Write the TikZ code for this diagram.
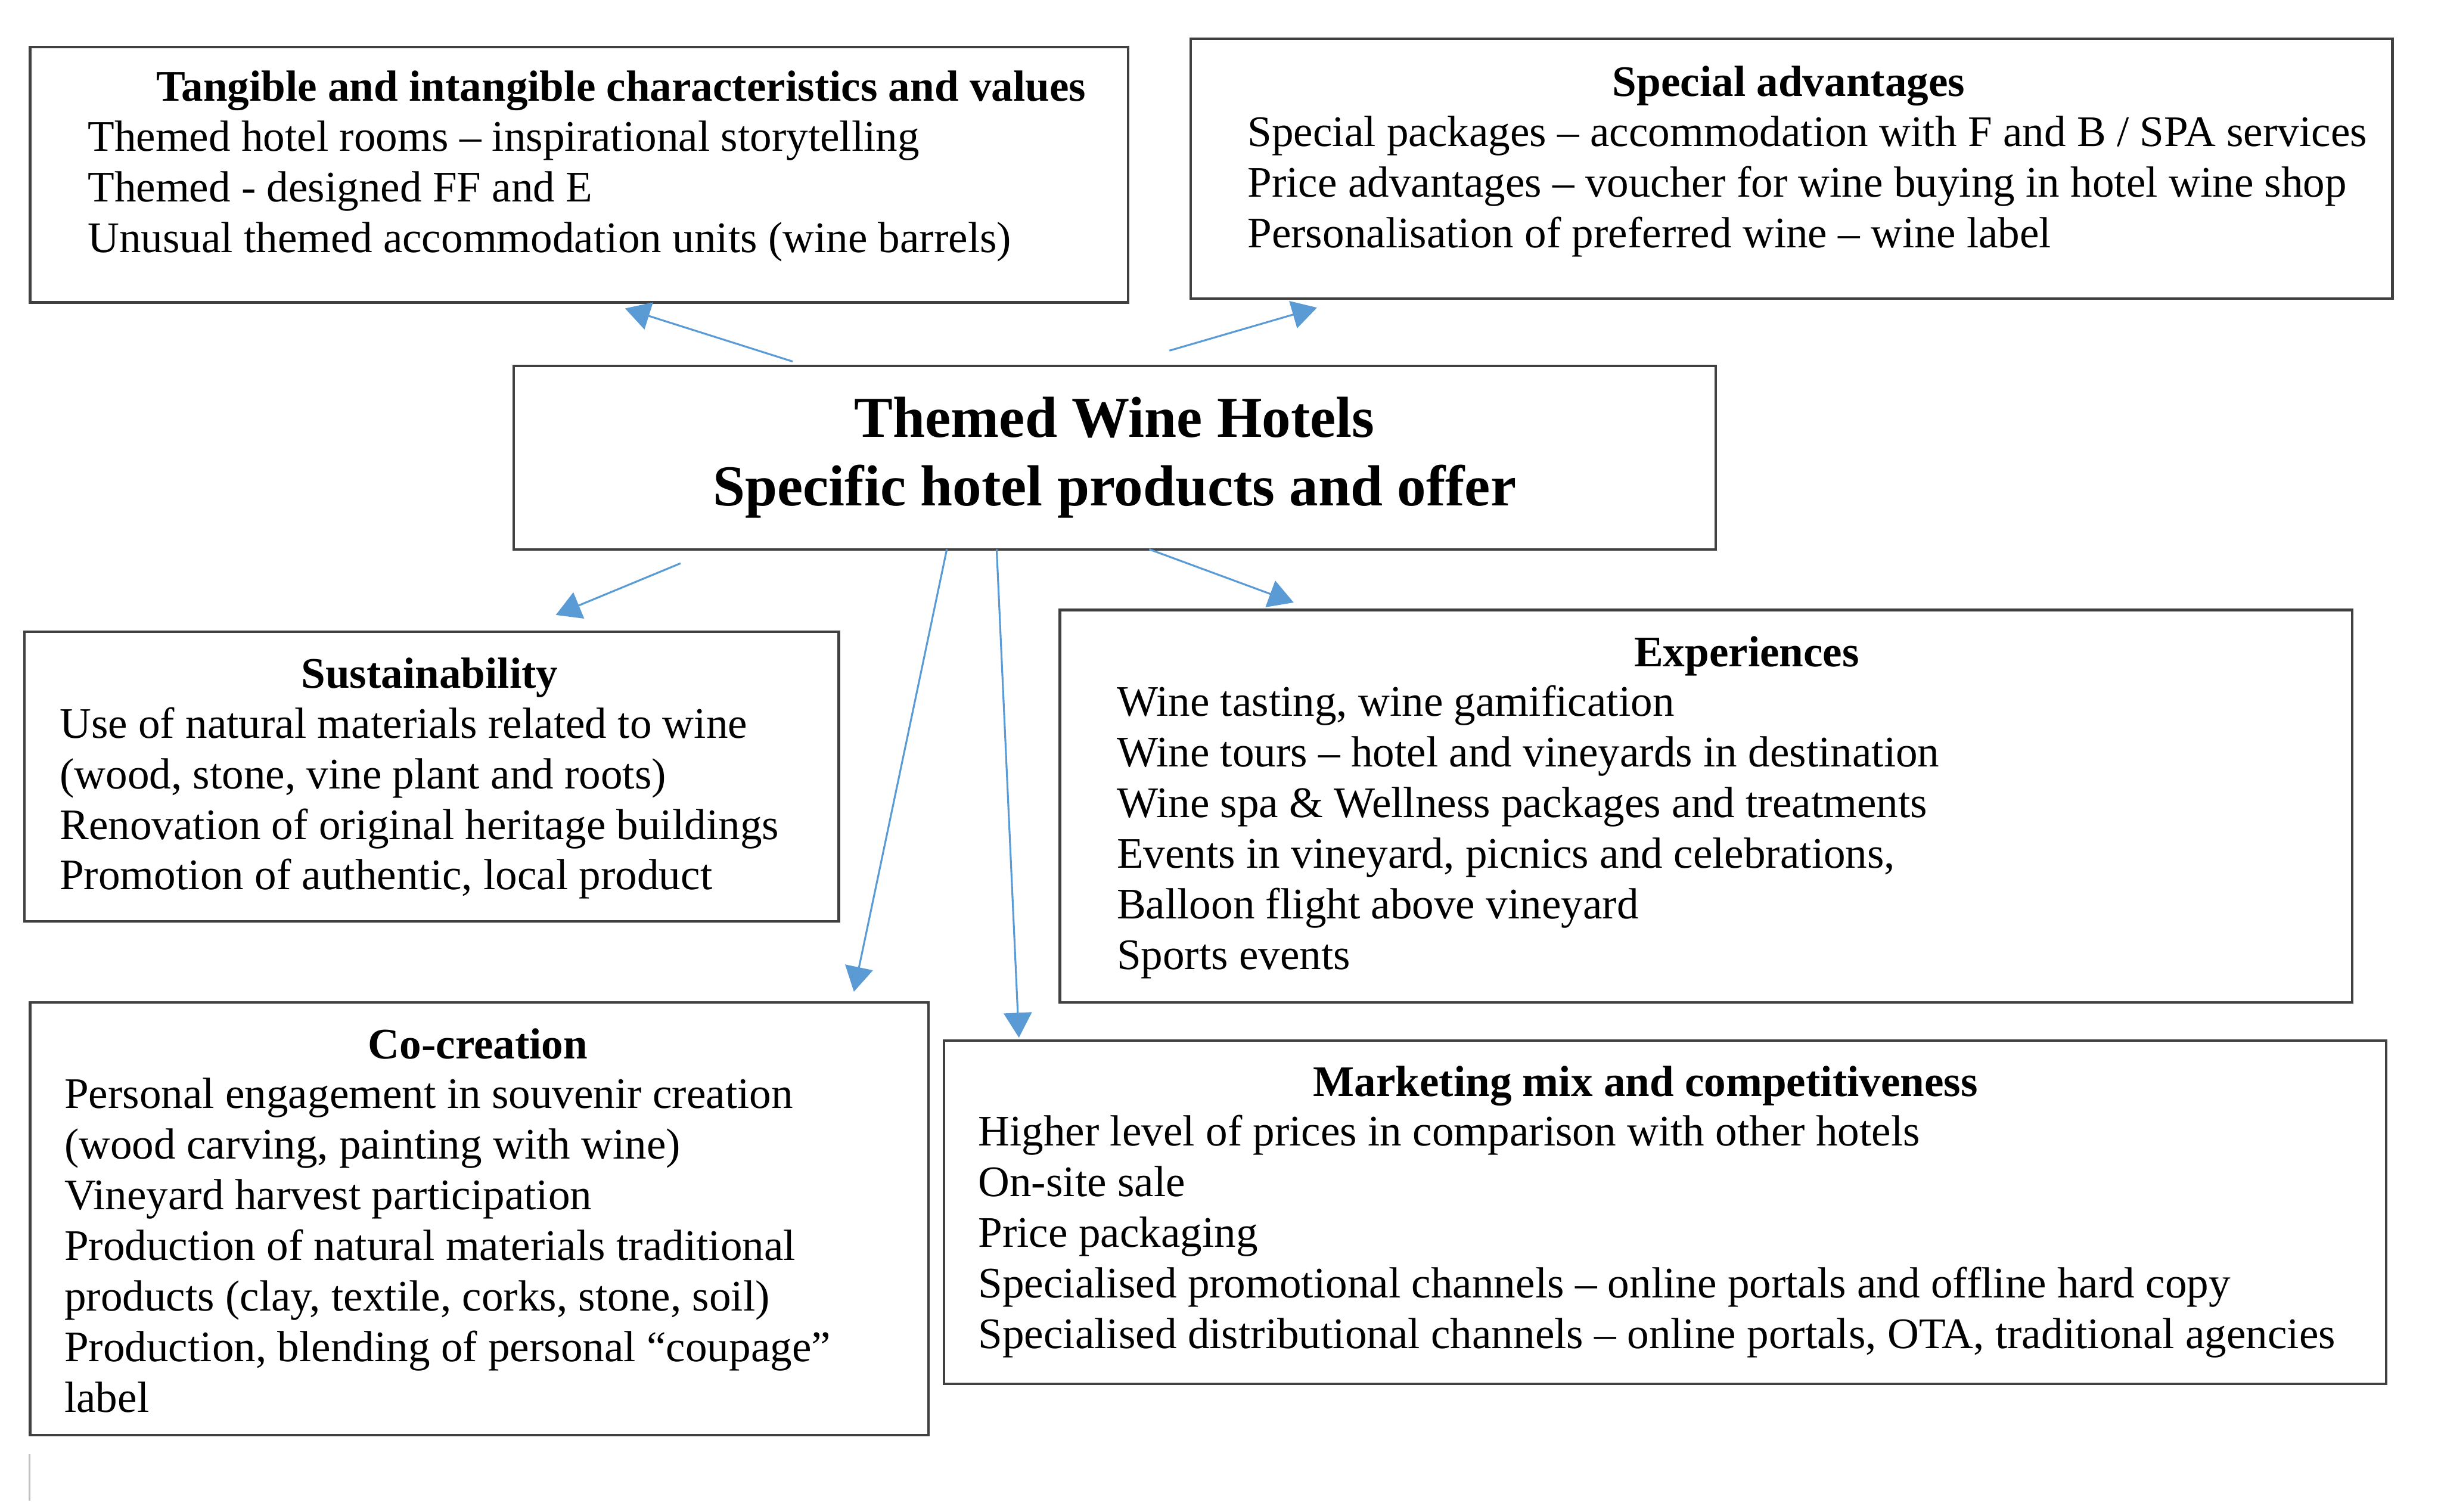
\documentclass[tikz,border=0pt]{standalone}
\usepackage{fontspec}
\setmainfont{Liberation Serif}
\usetikzlibrary{arrows.meta,calc}
\definecolor{linkblue}{RGB}{91,155,213}
\newcommand{\bodysize}{\fontsize{14}{16.25}\selectfont}
\newcommand{\hubsize}{\fontsize{18.6}{22}\selectfont}
\newcommand{\panelbox}[5]{%
	\node[panel, minimum width=#4*0.5pt, minimum height=#5*0.5pt] (#1) at (#2,#3) {};
}

\begin{document}
\begin{tikzpicture}[x=0.5pt, y=-0.5pt, font=\bodysize,
		panel/.style={draw=black!75, line width=0.8pt, inner sep=0pt, anchor=north west},
		head/.style={anchor=base, inner sep=0pt, font=\bodysize\bfseries},
		body/.style={anchor=base west, align=left, inner sep=0pt},
		link/.style={draw=linkblue, line width=0.6pt, -{Triangle[length=8pt, width=9pt]}}]
	\useasboundingbox (0,0) rectangle (1568,971);
	% centre box
	\node[panel, anchor=center, align=center, font=\hubsize\bfseries,
		minimum width=386pt, minimum height=59pt] (hub) at (716,294)
		{Themed Wine Hotels\\Specific hotel products and offer};
	% outer boxes
	\panelbox{tang}{18.5}{29.5}{705.5}{164}
	\panelbox{spec}{764}{24}{772}{167}
	\panelbox{sust}{15}{405}{523}{186}
	\panelbox{exp}{680}{391}{830}{252}
	\panelbox{cocre}{18.5}{643}{577}{278}
	\panelbox{mkt}{605.5}{667.5}{926.5}{220.5}
	% texts (bodies sit on the baseline of their last line)
	\node[head] (tang-head) at (399,65) {Tangible and intangible characteristics and values};
	\node[body] (tang-body) at (56,162) {Themed hotel rooms -- inspirational storytelling\\
		Themed - designed FF and E\\
		Unusual themed accommodation units (wine barrels)};
	\node[head] (spec-head) at (1149,62) {Special advantages};
	\node[body] (spec-body) at (801,159) {Special packages -- accommodation with F and B / SPA services\\
		Price advantages -- voucher for wine buying in hotel wine shop\\
		Personalisation of preferred wine -- wine label};
	\node[head] (sust-head) at (276,442) {Sustainability};
	\node[body] (sust-body) at (38,571.5) {Use of natural materials related to wine\\
		(wood, stone, vine plant and roots)\\
		Renovation of original heritage buildings\\
		Promotion of authentic, local product};
	\node[head] (exp-head) at (1122,428) {Experiences};
	\node[body] (exp-body) at (717,622.5) {Wine tasting, wine gamification\\
		Wine tours -- hotel and vineyards in destination\\
		Wine spa \& Wellness packages and treatments\\
		Events in vineyard, picnics and celebrations,\\
		Balloon flight above vineyard\\
		Sports events};
	\node[head] (cocre-head) at (307,680) {Co-creation};
	\node[body] (cocre-body) at (41,907) {Personal engagement in souvenir creation\\
		(wood carving, painting with wine)\\
		Vineyard harvest participation\\
		Production of natural materials traditional\\
		products (clay, textile, corks, stone, soil)\\
		Production, blending of personal “coupage”\\
		label};
	\node[head] (mkt-head) at (1057,704) {Marketing mix and competitiveness};
	\node[body] (mkt-body) at (628,866) {Higher level of prices in comparison with other hotels\\
		On-site sale\\
		Price packaging\\
		Specialised promotional channels -- online portals and offline hard copy\\
		Specialised distributional channels -- online portals, OTA, traditional agencies};
	% arrows
	\draw[link] ($(hub.north west)+(180,-2)$) -- ($(tang.south west)+(383,3)$);
	\draw[link] ($(hub.north west)+(422,-9)$) -- ($(spec.south west)+(82,5)$);
	\draw[link] ($(hub.south west)+(108,8)$) -- ($(sust.north west)+(342,-10)$);
	\draw[link] ($(hub.south west)+(279,-1)$) -- ($(cocre.north west)+(530,-6)$);
	\draw[link] ($(hub.south west)+(311,-1)$) -- ($(mkt.north west)+(49,-1)$);
	\draw[link] ($(hub.south west)+(409,-1)$) -- ($(exp.north west)+(151,-4)$);
	% cursor mark
	\draw[black!25, line width=0.6pt] (19,934) -- (19,964);
\end{tikzpicture}
\end{document}
